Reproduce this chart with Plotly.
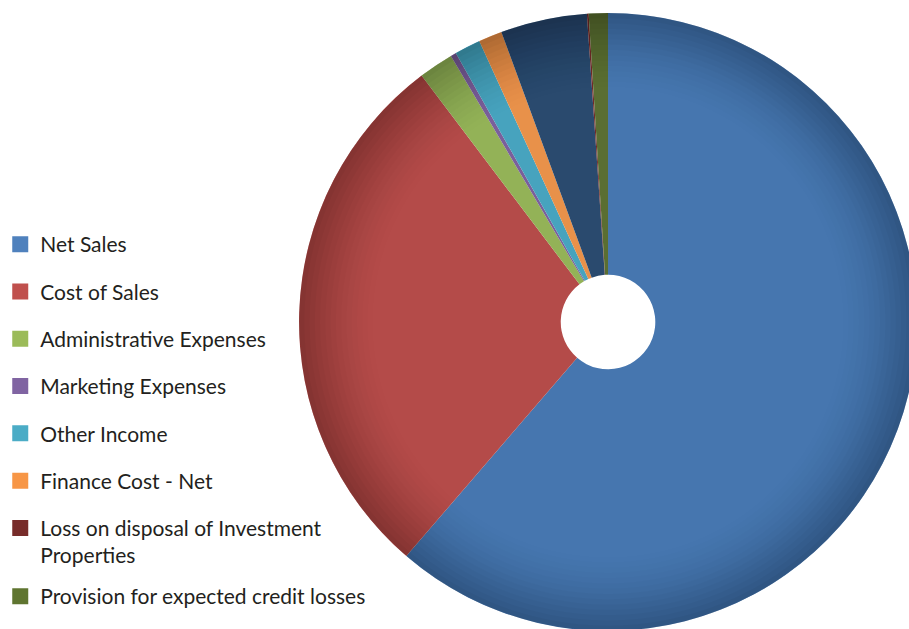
import plotly.graph_objects as go

# Share of each income-statement line (percent of total)
labels = [
    "Net Sales",
    "Cost of Sales",
    "Administrative Expenses",
    "Marketing Expenses",
    "Other Income",
    "Finance Cost - Net",
    "Zakat",
    "Loss on disposal of Investment Properties",
    "Provision for expected credit losses",
]
values = [61.32, 28.37, 1.82, 0.29, 1.36, 1.23, 4.52, 0.09, 1.00]

# Slice fills and the lighter swatches used in the legend
slice_colors = ["#4676AF", "#B44B49", "#93B257", "#7A5F9B", "#47A3BE",
                "#E8914A", "#2A4A6E", "#722B29", "#5A6E32"]
legend_colors = ["#4F81BD", "#C0504D", "#9BBB59", "#8064A2", "#4BACC6",
                 "#F79646", "#2C4D75", "#772C2A", "#5F7530"]
legend_labels = [
    "Net Sales",
    "Cost of Sales",
    "Administrative Expenses",
    "Marketing Expenses",
    "Other Income",
    "Finance Cost - Net",
    "Loss on disposal of Investment<br>Properties",
    "Provision for expected credit losses",
]
legend_index = [0, 1, 2, 3, 4, 5, 7, 8]

W, H = 920, 640
cx, cy, R = 607, 322, 310
dom_x = [(cx - R) / W, (cx + R) / W]
dom_y = [(H - (cy + R)) / H, (H - (cy - R)) / H]

fig = go.Figure()

fig.add_trace(go.Pie(
    labels=labels,
    values=values,
    marker=dict(colors=slice_colors, line=dict(width=0)),
    hole=0.153,
    sort=False,
    direction="clockwise",
    rotation=0,
    textinfo="none",
    showlegend=False,
    domain=dict(x=dom_x, y=dom_y),
))

# Darkening toward the rim: stacked translucent rings
n_rings = 14
r0, r1, dmax = 0.76, 1.0, 0.22
prev = 0.0
for k in range(n_rings):
    h = r0 + (r1 - r0) * k / n_rings
    t = (k + 1) / n_rings
    d = dmax * t ** 1.6
    a = 1 - (1 - d) / (1 - prev)
    prev = d
    fig.add_trace(go.Pie(
        values=[1],
        labels=[""],
        marker=dict(colors=[f"rgba(0,0,0,{a:.4f})"], line=dict(width=0)),
        hole=h,
        sort=False,
        textinfo="none",
        hoverinfo="skip",
        showlegend=False,
        domain=dict(x=dom_x, y=dom_y),
    ))

# Legend entries (square swatches); the last one sits in its own box
for j, (i, name) in enumerate(zip(legend_index, legend_labels)):
    fig.add_trace(go.Scatter(
        x=[None], y=[None],
        mode="markers",
        marker=dict(symbol="square", size=18, color=legend_colors[i],
                    line=dict(width=0)),
        name=name,
        legendgroup=name,
        showlegend=True,
        legend="legend2" if j == len(legend_labels) - 1 else "legend",
    ))

legend_font = dict(family="Lato", size=21, color="#231F20")
fig.update_layout(
    width=W, height=H,
    margin=dict(l=0, r=0, t=0, b=0),
    paper_bgcolor="white",
    plot_bgcolor="white",
    xaxis=dict(visible=False),
    yaxis=dict(visible=False),
    legend=dict(
        x=-0.003, y=(H - 224) / H,
        xanchor="left", yanchor="top",
        font=legend_font,
        traceorder="grouped",
        tracegroupgap=17,
        itemsizing="trace",
        valign="top",
        bgcolor="rgba(0,0,0,0)",
    ),
    legend2=dict(
        x=-0.003, y=(H - 576) / H,
        xanchor="left", yanchor="top",
        font=legend_font,
        itemsizing="trace",
        valign="top",
        bgcolor="rgba(0,0,0,0)",
    ),
)

fig.write_html(
    "out.html",
    post_script="document.documentElement.style.overflow='hidden';document.body.style.overflow='hidden';document.body.style.margin='0';",
)
